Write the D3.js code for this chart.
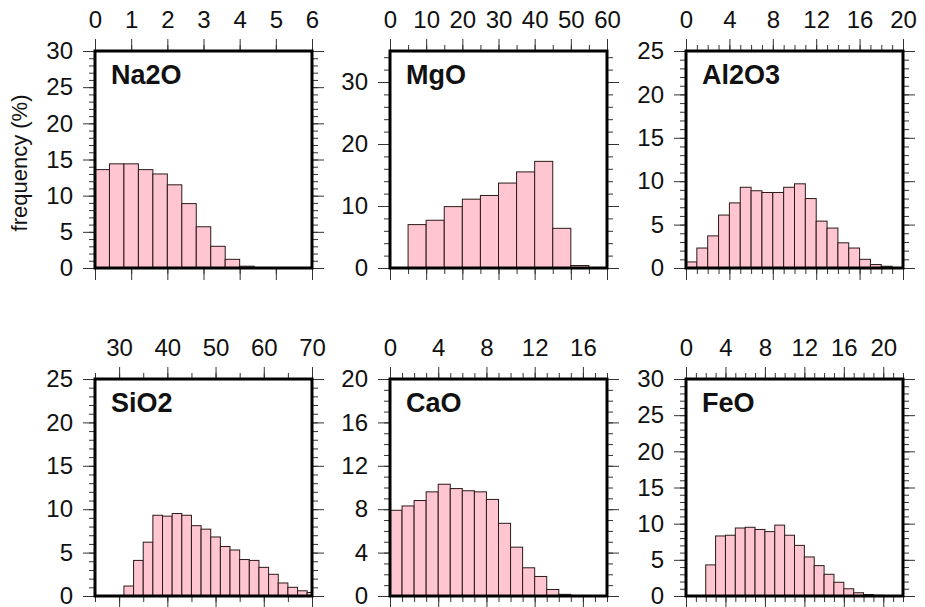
<!DOCTYPE html>
<meta charset="utf-8">
<style>
body { margin: 0; background: #fff; }
text { font-family: "Liberation Sans", Arial, Helvetica, sans-serif; fill: #111; }
.tick line { stroke: #333; }
.domain { display: none; }
</style>
<body>
<script src="https://cdn.jsdelivr.net/npm/d3@7"></script>
<script>

var width = 925, height = 607;

// histogram values (frequency %), one array per oxide
var na2o  = [13.6, 14.4, 14.4, 13.6, 13.0, 11.5, 8.9, 5.7, 3.0, 1.2, 0.25];
var mgo   = [7.0, 7.7, 9.9, 11.1, 11.7, 13.7, 15.5, 17.2, 6.4, 0.4];
var al2o3 = [0.7, 2.3, 3.7, 6.1, 7.5, 9.3, 8.9, 8.7, 8.7, 9.3, 9.7, 8.0, 5.4, 4.6, 2.9, 2.3, 1.0, 0.4, 0.2, 0.05];
var sio2  = [1.15, 4.1, 6.2, 9.3, 9.2, 9.5, 9.3, 8.1, 7.7, 6.8, 5.7, 5.3, 4.2, 4.1, 3.3, 2.5, 1.5, 1.0, 0.6, 0.4];
var cao   = [7.9, 8.3, 8.8, 9.6, 10.3, 9.9, 9.7, 9.6, 8.9, 6.7, 4.5, 2.6, 1.8, 0.6, 0.15, 0.05];
var feo   = [4.3, 8.3, 8.4, 9.4, 9.5, 9.2, 8.9, 9.8, 8.4, 7.0, 5.4, 4.2, 3.0, 1.9, 1.0, 0.45, 0.2, 0.1, 0.05];

var names = ["Na2O", "MgO", "Al2O3", "SiO2", "CaO", "FeO"];
var series = [na2o, mgo, al2o3, sio2, cao, feo];
var binStart = [0, 5, 0, 31, 0, 2];
var binWidth = [0.4, 5, 1, 2, 1, 1];

// axis ranges and tick steps: [min, max, major, minor]
var xAxes = [[0, 6, 1, 1], [0, 60, 10, 5], [0, 20, 4, 1], [25, 70, 10, 5], [0, 18, 4, 1], [0, 22, 4, 1]];
var yAxes = [[0, 30, 5, 1], [0, 35, 10, 2], [0, 25, 5, 1], [0, 25, 5, 1], [0, 20, 4, 1], [0, 30, 5, 1]];

var colX = [95, 390, 686], rowY = [51, 379], size = 217;
var major = 12, minor = 6;

var svg = d3.select("body").append("svg")
    .attr("width", width)
    .attr("height", height);

function ticks(lo, hi, step) {
  var t = [];
  for (var v = Math.ceil(lo / step) * step; v <= hi + 1e-9; v += step) t.push(+v.toFixed(6));
  return t;
}

names.forEach(function(name, i) {
  var x0 = colX[i % 3], y0 = rowY[Math.floor(i / 3)];
  var xa = xAxes[i], ya = yAxes[i];

  var x = d3.scaleLinear().domain([xa[0], xa[1]]).range([0, size]);
  var y = d3.scaleLinear().domain([ya[0], ya[1]]).range([size, 0]);

  var g = svg.append("g").attr("transform", "translate(" + x0 + "," + y0 + ")");

  g.append("clipPath").attr("id", "clip" + i)
    .append("rect").attr("width", size).attr("height", size);

  var bins = series[i].map(function(v, k) {
    return {x0: binStart[i] + k * binWidth[i], x1: binStart[i] + (k + 1) * binWidth[i], v: v};
  });

  g.append("g").attr("clip-path", "url(#clip" + i + ")")
    .selectAll("rect").data(bins).enter().append("rect")
      .attr("x", function(d) { return x(d.x0); })
      .attr("width", function(d) { return x(d.x1) - x(d.x0); })
      .attr("y", function(d) { return y(d.v); })
      .attr("height", function(d) { return size - y(d.v); })
      .attr("fill", "#ffc6d1")
      .attr("stroke", "#2a1a1a")
      .attr("stroke-width", 1);

  var xMin = ticks(xa[0], xa[1], xa[3]), xMaj = ticks(xa[0], xa[1], xa[2]);
  var yMin = ticks(ya[0], ya[1], ya[3]), yMaj = ticks(ya[0], ya[1], ya[2]);

  // minor ticks on all four sides
  g.append("g").call(d3.axisTop(x).tickValues(xMin).tickSize(minor).tickFormat(""));
  g.append("g").attr("transform", "translate(0," + size + ")")
    .call(d3.axisBottom(x).tickValues(xMin).tickSize(minor).tickFormat(""));
  g.append("g").call(d3.axisLeft(y).tickValues(yMin).tickSize(minor).tickFormat(""));
  g.append("g").attr("transform", "translate(" + size + ",0)")
    .call(d3.axisRight(y).tickValues(yMin).tickSize(minor).tickFormat(""));

  // major ticks, labelled on top and left
  g.append("g").attr("class", "lab")
    .call(d3.axisTop(x).tickValues(xMaj).tickSize(major).tickPadding(11).tickFormat(d3.format("d")));
  g.append("g").attr("transform", "translate(0," + size + ")")
    .call(d3.axisBottom(x).tickValues(xMaj).tickSize(major).tickFormat(""));
  g.append("g").attr("class", "lab")
    .call(d3.axisLeft(y).tickValues(yMaj).tickSize(major).tickPadding(10).tickFormat(d3.format("d")));
  g.append("g").attr("transform", "translate(" + size + ",0)")
    .call(d3.axisRight(y).tickValues(yMaj).tickSize(major).tickFormat(""));

  g.selectAll(".lab").attr("font-size", null).attr("font-family", null);
  g.selectAll(".lab text").style("font-size", "24px");

  g.append("rect")
      .attr("width", size).attr("height", size)
      .attr("fill", "none").attr("stroke", "#000").attr("stroke-width", 3);

  g.append("text")
      .attr("x", 16).attr("y", 33)
      .style("font-size", "27px").attr("font-weight", "bold")
      .text(name);
});

svg.append("text")
    .attr("transform", "translate(27,163) rotate(-90)")
    .attr("text-anchor", "middle")
    .style("font-size", "22px")
    .text("frequency (%)");

</script>
